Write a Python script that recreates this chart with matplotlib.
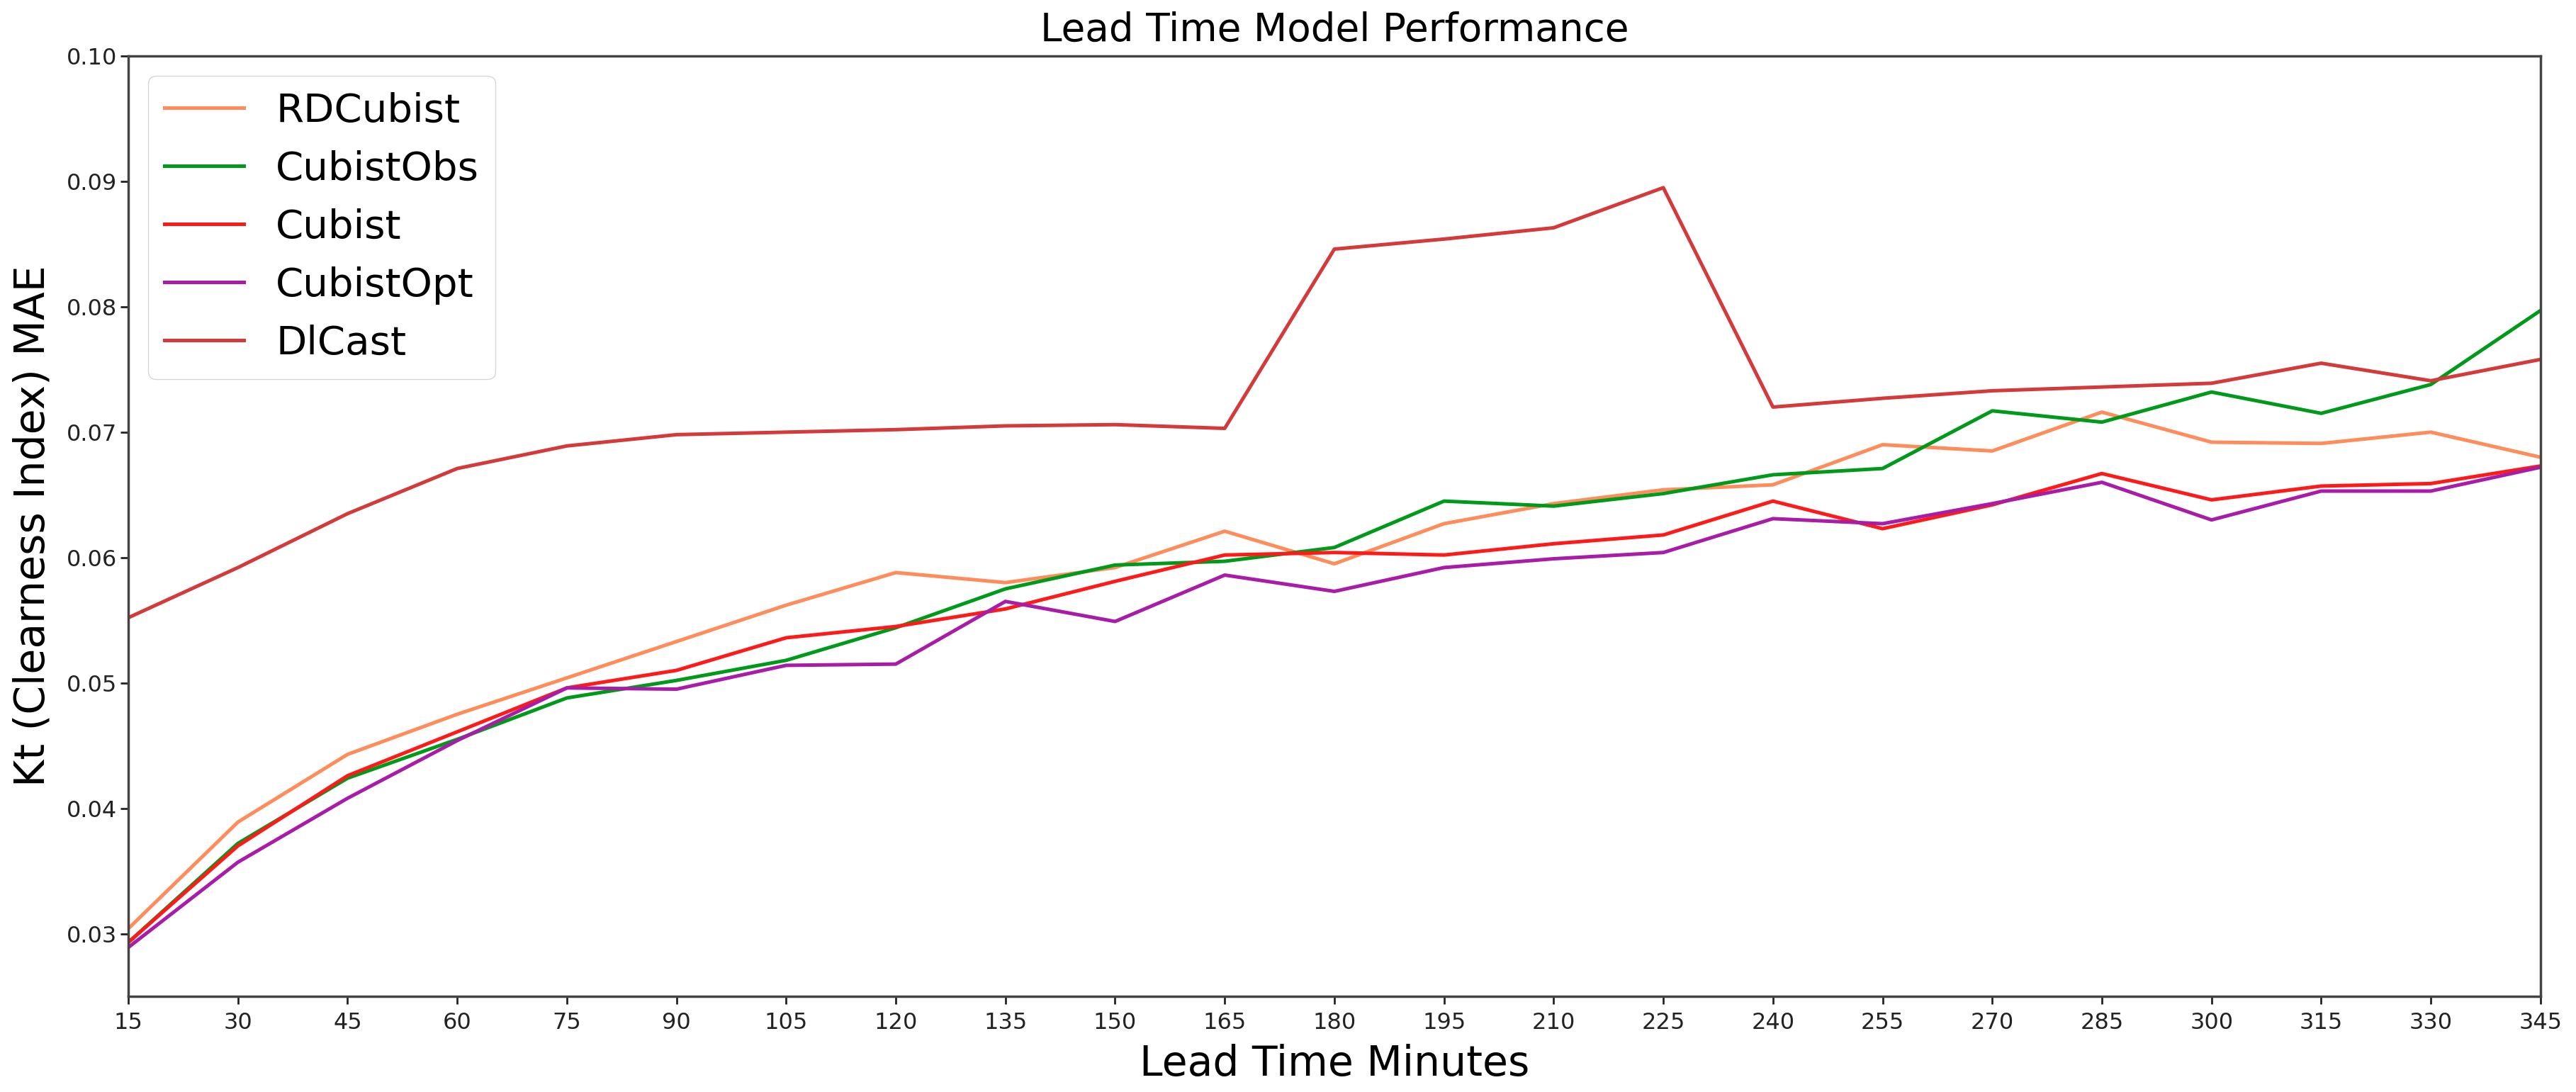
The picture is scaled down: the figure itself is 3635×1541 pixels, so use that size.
import matplotlib
matplotlib.use("Agg")
import matplotlib.pyplot as plt

lead_minutes = [15, 30, 45, 60, 75, 90, 105, 120, 135, 150, 165, 180,
                195, 210, 225, 240, 255, 270, 285, 300, 315, 330, 345]

rdcubist = [0.0304, 0.0389, 0.0443, 0.0475, 0.0504, 0.0533, 0.0562, 0.0588,
            0.0580, 0.0592, 0.0621, 0.0595, 0.0627, 0.0643, 0.0654, 0.0658,
            0.0690, 0.0685, 0.0716, 0.0692, 0.0691, 0.0700, 0.0680]
cubist_obs = [0.0293, 0.0372, 0.0424, 0.0455, 0.0488, 0.0502, 0.0518, 0.0544,
              0.0575, 0.0594, 0.0597, 0.0608, 0.0645, 0.0641, 0.0651, 0.0666,
              0.0671, 0.0717, 0.0708, 0.0732, 0.0715, 0.0738, 0.0797]
cubist = [0.0293, 0.0370, 0.0426, 0.0461, 0.0496, 0.0510, 0.0536, 0.0545,
          0.0559, 0.0581, 0.0602, 0.0604, 0.0602, 0.0611, 0.0618, 0.0645,
          0.0623, 0.0642, 0.0667, 0.0646, 0.0657, 0.0659, 0.0673]
cubist_opt = [0.0289, 0.0357, 0.0408, 0.0454, 0.0496, 0.0495, 0.0514, 0.0515,
              0.0565, 0.0549, 0.0586, 0.0573, 0.0592, 0.0599, 0.0604, 0.0631,
              0.0627, 0.0643, 0.0660, 0.0630, 0.0653, 0.0653, 0.0672]
dlcast = [0.0552, 0.0592, 0.0635, 0.0671, 0.0689, 0.0698, 0.0700, 0.0702,
          0.0705, 0.0706, 0.0703, 0.0846, 0.0854, 0.0863, 0.0895, 0.0720,
          0.0727, 0.0733, 0.0736, 0.0739, 0.0755, 0.0741, 0.0758]

fig = plt.figure(figsize=(36.35, 15.41), dpi=100)
ax = fig.add_axes([0.0498, 0.0876, 0.9364, 0.8611])

lw = 3.6
ax.plot(lead_minutes, rdcubist, color='#ff8c5a', lw=lw, label='RDCubist')
ax.plot(lead_minutes, cubist_obs, color='#009a1a', lw=lw, label='CubistObs')
ax.plot(lead_minutes, cubist, color='#ff1a1a', lw=lw, label='Cubist')
ax.plot(lead_minutes, cubist_opt, color='#a81ca8', lw=lw, label='CubistOpt')
ax.plot(lead_minutes, dlcast, color='#d43a3a', lw=lw, label='DlCast')

ax.set_xlim(15, 345)
ax.set_ylim(0.025, 0.1)
ax.set_xticks(lead_minutes)
ax.set_yticks([0.03, 0.04, 0.05, 0.06, 0.07, 0.08, 0.09, 0.10])
ax.set_yticklabels(['0.03', '0.04', '0.05', '0.06', '0.07', '0.08', '0.09', '0.10'])
ax.tick_params(labelsize=23, length=8, width=2, colors='#222222')
ax.tick_params(axis='x', pad=8)

for s in ax.spines.values():
    s.set_linewidth(2.5)
    s.set_color('#444444')

ax.set_title('Lead Time Model Performance', fontsize=39.5, pad=15)
ax.set_xlabel('Lead Time Minutes', fontsize=42, labelpad=10)
ax.set_ylabel('Kt (Clearness Index) MAE', fontsize=42, labelpad=14)

ax.legend(loc='upper left', fontsize=40.5)

fig.savefig('out.png', dpi=100)
